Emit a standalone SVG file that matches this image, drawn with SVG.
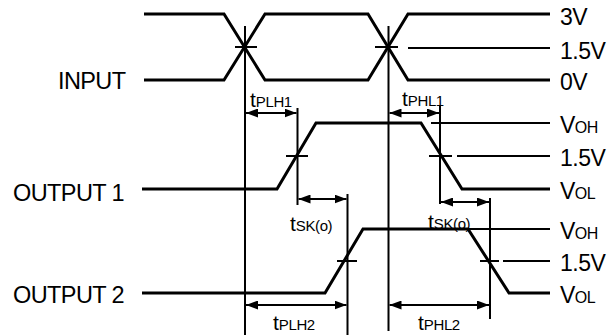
<svg xmlns="http://www.w3.org/2000/svg" width="611" height="335" viewBox="0 0 611 335">
<defs>
<marker id="ah" viewBox="0 0 12 9" refX="12" refY="4.5" markerWidth="12" markerHeight="9" markerUnits="userSpaceOnUse" orient="auto-start-reverse">
<path d="M0,0 L12,4.5 L0,9 z" fill="#000"/>
</marker>
</defs>
<style>
.wave{fill:none;stroke:#000;stroke-width:3;stroke-linejoin:miter}
.thin{fill:none;stroke:#000;stroke-width:2}
.ref{fill:none;stroke:#000;stroke-width:2}
.arr{fill:none;stroke:#000;stroke-width:2;marker-start:url(#ah);marker-end:url(#ah)}
text{font-family:"Liberation Sans",Arial,sans-serif;fill:#000}
.lbl{font-size:23.5px;letter-spacing:-0.6px}
.lv{font-size:23px;letter-spacing:-0.5px}
.sub{font-size:16px}
.t{font-size:21px}
.ts{font-size:15px;letter-spacing:-0.4px}
</style>
<g id="input">
<path class="wave" d="M144,14 H224 L265,80 H368 L408,14 H550"/>
<path class="wave" d="M144,80 H224 L265,14 H368 L408,80 H550"/>
<path class="thin" d="M408,48 H550 M235,47 H257 M375,47 H398"/>
<text class="lbl" x="58" y="89">INPUT</text>
<text class="lv" x="560" y="25">3V</text>
<text class="lv" x="560" y="59">1.5V</text>
<text class="lv" x="560" y="90">0V</text>
</g>
<g id="output1">
<path class="wave" d="M142,189 H277 L316,123 H421 L462,189 H550"/>
<path class="thin" d="M431,123 H550 M429,156 H452 M457,156 H550 M286,156 H308"/>
<text class="lbl" x="13" y="201">OUTPUT 1</text>
<text class="lv" x="560" y="133">V<tspan class="sub">OH</tspan></text>
<text class="lv" x="560" y="166">1.5V</text>
<text class="lv" x="560" y="199">V<tspan class="sub">OL</tspan></text>
</g>
<g id="output2">
<path class="wave" d="M142,293 H325 L363,229 H468 L509,293 H550"/>
<path class="thin" d="M468,229 H550 M480,261 H499 M503,261 H550 M337,261 H357"/>
<text class="lbl" x="13" y="303">OUTPUT 2</text>
<text class="lv" x="560" y="239">V<tspan class="sub">OH</tspan></text>
<text class="lv" x="560" y="271">1.5V</text>
<text class="lv" x="560" y="303">V<tspan class="sub">OL</tspan></text>
</g>
<g id="connectors">
<path class="ref" d="M245,26 V335 M388.5,26 V331 M297.5,108 V205 M440,105 V204 M347.5,194 V335 M490,198 V319"/>
<path class="arr" d="M246,113 H296.5"/>
<path class="arr" d="M389.5,113 H439"/>
<path class="arr" d="M298.5,199 H346.5"/>
<path class="arr" d="M441,202 H489"/>
<path class="arr" d="M246,305 H346.5"/>
<path class="arr" d="M389.5,305 H489"/>
</g>
<g id="timing-labels">
<text x="250" y="107"><tspan class="t">t</tspan><tspan class="ts">PLH1</tspan></text>
<text x="402" y="106"><tspan class="t">t</tspan><tspan class="ts">PHL1</tspan></text>
<text x="290" y="231"><tspan class="t">t</tspan><tspan class="ts">SK(o)</tspan></text>
<text x="428" y="229"><tspan class="t">t</tspan><tspan class="ts">SK(o)</tspan></text>
<text x="273" y="330"><tspan class="t">t</tspan><tspan class="ts">PLH2</tspan></text>
<text x="418" y="330"><tspan class="t">t</tspan><tspan class="ts">PHL2</tspan></text>
</g>
</svg>
